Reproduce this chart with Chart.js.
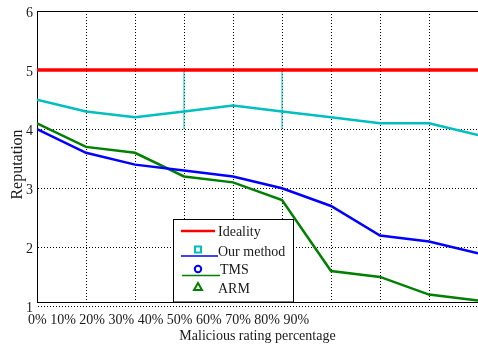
<!DOCTYPE html>
<html>
<head>
<meta charset="utf-8">
<script src="https://cdn.jsdelivr.net/npm/chart.js@4/dist/chart.umd.min.js"></script>
<style>
  html, body { margin: 0; padding: 0; background: #fff; }
  canvas { display: block; }
</style>
</head>
<body>
<canvas id="chart" width="478" height="346"></canvas>
<script>
// Malicious rating percentage steps (one grid column per step)
const percentages = ['0%', '10%', '20%', '30%', '40%', '50%', '60%', '70%', '80%', '90%'];
const steps = [0, 1, 2, 3, 4, 5, 6, 7, 8, 9];
const yTickValues = [1, 2, 3, 4, 5, 6];

// Reputation per method
const ideality  = [5, 5, 5, 5, 5, 5, 5, 5, 5, 5];
const ourMethod = [4.5, 4.3, 4.2, 4.3, 4.4, 4.3, 4.2, 4.1, 4.1, 3.9];
const tms       = [4.0, 3.6, 3.4, 3.3, 3.2, 3.0, 2.7, 2.2, 2.1, 1.9];
const arm       = [4.1, 3.7, 3.6, 3.2, 3.1, 2.8, 1.6, 1.5, 1.2, 1.1];

// Thin cyan uprights between reputation 4 and 5
const uprightSteps = [3, 5];
const uprightRange = [4, 5];

const SERIF = '"Liberation Serif", "Times New Roman", serif';
const INK = '#1a1a1a';

const toPoints = arr => arr.map((v, i) => ({ x: steps[i], y: v }));

const uprightPoints = [];
uprightSteps.forEach((s, k) => {
  if (k > 0) uprightPoints.push({ x: s - 0.5, y: null });
  uprightRange.forEach(v => uprightPoints.push({ x: s, y: v }));
});

const lineStyle = (color, width) => ({
  borderColor: color, backgroundColor: color, borderWidth: width,
  pointRadius: 0, pointHoverRadius: 0, tension: 0, fill: false
});

// Frame top edge, legend box and y-axis caption
const decorations = {
  id: 'decorations',
  afterDraw(chart) {
    const ctx = chart.ctx;
    const ca = chart.chartArea;
    ctx.save();

    // top edge of the plot frame
    ctx.strokeStyle = '#000';
    ctx.lineWidth = 1;
    ctx.setLineDash([]);
    ctx.beginPath();
    ctx.moveTo(ca.left, ca.top + 0.5);
    ctx.lineTo(ca.right, ca.top + 0.5);
    ctx.stroke();

    // legend box
    const bx = 173.5, by = 219.5, bw = 120, bh = ca.bottom - by;
    ctx.fillStyle = '#fff';
    ctx.fillRect(bx, by, bw, bh);
    ctx.strokeRect(bx, by, bw, bh);

    ctx.font = '14px ' + SERIF;
    ctx.fillStyle = INK;
    ctx.textAlign = 'left';
    ctx.textBaseline = 'middle';

    // Ideality
    ctx.strokeStyle = '#ff0000';
    ctx.lineWidth = 2.5;
    ctx.beginPath(); ctx.moveTo(181, 231); ctx.lineTo(215, 231); ctx.stroke();
    ctx.fillText('Ideality', 218, 232);

    // Our method
    ctx.strokeStyle = '#00bfbf';
    ctx.lineWidth = 2;
    ctx.strokeRect(195, 246.5, 6, 6);
    ctx.strokeStyle = '#0000ff';
    ctx.lineWidth = 1.5;
    ctx.beginPath(); ctx.moveTo(181, 256); ctx.lineTo(218, 256); ctx.stroke();
    ctx.fillText('Our method', 218, 252);

    // TMS
    ctx.strokeStyle = '#0000ff';
    ctx.lineWidth = 2;
    ctx.beginPath(); ctx.arc(198, 269, 3.2, 0, Math.PI * 2); ctx.stroke();
    ctx.strokeStyle = '#008000';
    ctx.lineWidth = 1.5;
    ctx.beginPath(); ctx.moveTo(182, 275.5); ctx.lineTo(220, 275.5); ctx.stroke();
    ctx.fillText('TMS', 220, 270);

    // ARM
    ctx.strokeStyle = '#008000';
    ctx.lineWidth = 2;
    ctx.beginPath();
    ctx.moveTo(198, 283); ctx.lineTo(202, 290); ctx.lineTo(194, 290); ctx.closePath();
    ctx.stroke();
    ctx.fillText('ARM', 218, 289);

    // y-axis caption
    ctx.translate(21.5, 164.5);
    ctx.rotate(-Math.PI / 2);
    ctx.font = '16px ' + SERIF;
    ctx.textAlign = 'center';
    ctx.textBaseline = 'alphabetic';
    ctx.fillText('Reputation', 0, 0);

    ctx.restore();
  }
};

new Chart(document.getElementById('chart'), {
  type: 'line',
  data: {
    datasets: [
      { label: 'Ideality', data: toPoints(ideality), ...lineStyle('#ff0000', 3.5) },
      { label: 'Our method', data: toPoints(ourMethod), ...lineStyle('#00bfbf', 2.5) },
      { label: 'TMS', data: toPoints(tms), ...lineStyle('#0000ff', 2.5) },
      { label: 'ARM', data: toPoints(arm), ...lineStyle('#008000', 2.5) },
      { label: 'uprights', data: uprightPoints, spanGaps: false, ...lineStyle('#00bfbf', 1) }
    ]
  },
  options: {
    responsive: false,
    animation: false,
    devicePixelRatio: 1,
    layout: { padding: { top: 11, left: 0, right: 0, bottom: 0 } },
    plugins: { legend: { display: false }, tooltip: { enabled: false } },
    scales: {
      x: {
        type: 'linear',
        position: 'bottom',
        min: 0,
        max: 9,
        grid: {
          color: c => (c.tick && c.tick.value === 9 ? 'rgba(0,0,0,0)' : '#000'),
          lineWidth: 1,
          drawTicks: false
        },
        border: { display: true, color: '#000', width: 1, dash: [1, 2] },
        ticks: {
          stepSize: 1,
          autoSkip: false,
          maxRotation: 0,
          minRotation: 0,
          align: 'start',
          labelOffset: -9,
          padding: 10,
          color: INK,
          font: { family: SERIF, size: 14 },
          callback: v => (v === 0 ? percentages.join(' ') : '')
        },
        title: {
          display: true,
          text: 'Malicious rating percentage',
          color: INK,
          font: { family: SERIF, size: 14 },
          padding: { top: 0, bottom: 1 }
        },
        afterFit: s => { s.height = 44; s.paddingLeft = 0; s.paddingRight = 0; }
      },
      y: {
        type: 'linear',
        position: 'left',
        min: 1.075,
        max: 6,
        grid: { color: '#000', lineWidth: 1, drawTicks: false },
        border: { display: true, color: '#000', width: 1, dash: [1, 2] },
        ticks: {
          autoSkip: false,
          padding: 4,
          labelOffset: 2,
          color: INK,
          font: { family: SERIF, size: 14 }
        },
        afterBuildTicks: s => { s.ticks = yTickValues.map(v => ({ value: v })); },
        afterFit: s => { s.width = 37; s.paddingTop = 0; s.paddingBottom = 0; }
      }
    }
  },
  plugins: [decorations]
});
</script>
</body>
</html>
